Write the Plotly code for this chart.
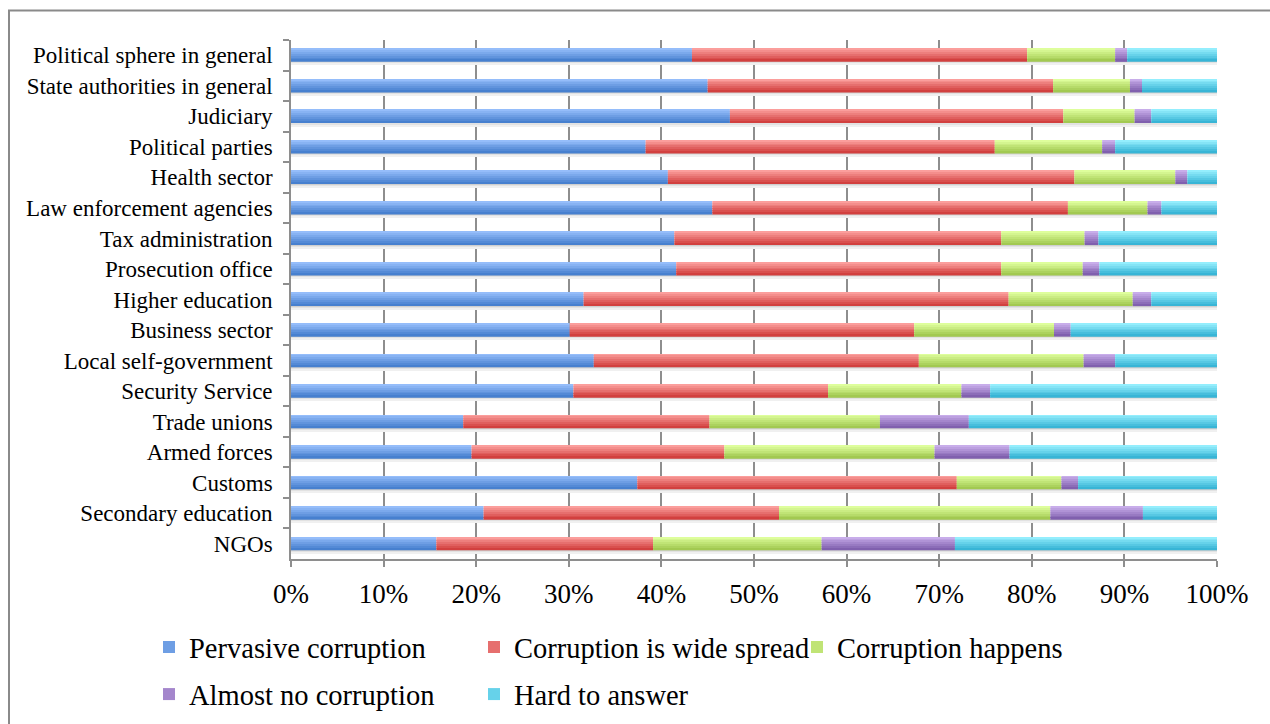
import plotly.graph_objects as go

categories = ["Political sphere in general", "State authorities in general", "Judiciary",
              "Political parties", "Health sector", "Law enforcement agencies",
              "Tax administration", "Prosecution office", "Higher education",
              "Business sector", "Local self-government", "Security Service",
              "Trade unions", "Armed forces", "Customs", "Secondary education", "NGOs"]

pervasive = [43.3, 45.0, 47.4, 38.3, 40.7, 45.5, 41.4, 41.6, 31.6, 30.1, 32.7, 30.5, 18.6, 19.5, 37.4, 20.8, 15.7]
wide_spread = [36.2, 37.3, 36.0, 37.7, 43.9, 38.4, 35.3, 35.1, 45.9, 37.2, 35.1, 27.5, 26.6, 27.3, 34.5, 31.9, 23.4]
happens = [9.5, 8.3, 7.7, 11.6, 10.9, 8.6, 9.0, 8.8, 13.4, 15.1, 17.8, 14.4, 18.4, 22.7, 11.3, 29.3, 18.2]
almost_none = [1.3, 1.3, 1.8, 1.4, 1.3, 1.5, 1.5, 1.8, 2.0, 1.8, 3.4, 3.1, 9.6, 8.1, 1.8, 10.0, 14.4]
hard_to_answer = [9.7, 8.1, 7.1, 11.0, 3.2, 6.0, 12.8, 12.7, 7.1, 15.8, 11.0, 24.5, 26.8, 22.4, 15.0, 8.0, 28.3]

series_names = ["Pervasive corruption", "Corruption is wide spread", "Corruption happens",
                "Almost no corruption", "Hard to answer"]
series_values = [pervasive, wide_spread, happens, almost_none, hard_to_answer]
tick_vals = [0, 10, 20, 30, 40, 50, 60, 70, 80, 90, 100]
tick_text = ["0%", "10%", "20%", "30%", "40%", "50%", "60%", "70%", "80%", "90%", "100%"]

# style
grad = [("#95bdfa", "#4780cf"), ("#fb9e9c", "#d2403f"), ("#defe9c", "#a2c951"),
        ("#c8adea", "#8060ae"), ("#94eefd", "#38b5d6")]
legend_of = ["legend", "legend2", "legend3", "legend", "legend2"]
FONT = "Liberation Serif"
BAR_W = 0.43
N_STRIPS = 7


def mix(c1, c2, t):
    a = [int(c1[i:i + 2], 16) for i in (1, 3, 5)]
    b = [int(c2[i:i + 2], 16) for i in (1, 3, 5)]
    return "#%02x%02x%02x" % tuple(round(a[k] + (b[k] - a[k]) * t) for k in range(3))


# row totals and percentages
totals = [sum(s[i] for s in series_values) for i in range(len(categories))]
pcts = [[v / totals[i] * 100 for i, v in enumerate(s)] for s in series_values]
bases = []
run = [0.0] * len(categories)
for p in pcts:
    bases.append(list(run))
    run = [run[i] + p[i] for i in range(len(categories))]

fig = go.Figure()

# soft shadow under the bars
for k, col in enumerate(["#cfcfcf", "#e2e2e2", "#f0f0f0"]):
    fig.add_trace(go.Bar(
        y=categories, x=run, base=[0] * len(categories), orientation="h",
        width=0.035, offset=BAR_W / 2 + k * 0.035,
        marker=dict(color=col, line=dict(width=0)),
        showlegend=False, hoverinfo="skip"))

for s_idx, name in enumerate(series_names):
    top, bot = grad[s_idx]
    sw = BAR_W / N_STRIPS
    for j in range(N_STRIPS):
        col = mix(top, bot, j / (N_STRIPS - 1))
        fig.add_trace(go.Bar(
            y=categories, x=pcts[s_idx], base=bases[s_idx], orientation="h",
            width=sw * 1.02, offset=-BAR_W / 2 + j * sw,
            marker=dict(color=col, line=dict(width=0)),
            name=name, legendgroup=name,
            showlegend=False, hoverinfo="skip"))
    # legend entry
    fig.add_trace(go.Bar(
        y=[None], x=[None], orientation="h", name=name, legendgroup=name,
        legend=legend_of[s_idx],
        marker=dict(color=mix(top, bot, 0.5), line=dict(width=0)), showlegend=True))


def px_x(px):
    return (px - 291) / 926


def px_y(py):
    return (559 - py) / 519


leg_common = dict(orientation="v", yanchor="top", xanchor="left",
                  font=dict(size=28.5, family=FONT), traceorder="grouped",
                  tracegroupgap=7, itemclick=False, itemdoubleclick=False,
                  bgcolor="rgba(0,0,0,0)")

fig.update_layout(
    width=1270, height=724,
    barmode="overlay",
    paper_bgcolor="white", plot_bgcolor="white",
    margin=dict(l=291, r=53, t=40, b=165, autoexpand=False),
    font=dict(family=FONT, color="#000000"),
    xaxis=dict(range=[0, 100], tickvals=tick_vals, ticktext=tick_text,
               showgrid=True, gridcolor="#8e8e8e", gridwidth=1.6,
               showline=True, linecolor="#8e8e8e", linewidth=1.6,
               ticks="outside", ticklen=6, tickcolor="#8e8e8e", tickwidth=1.6,
               ticklabelstandoff=4,
               tickfont=dict(size=27, family=FONT), zeroline=False),
    yaxis=dict(type="category", categoryorder="array", categoryarray=categories,
               autorange="reversed", showgrid=False,
               showline=True, linecolor="#8e8e8e", linewidth=1.6,
               ticks="outside", ticklen=6, tickcolor="#8e8e8e", tickwidth=1.6,
               tickson="boundaries", ticklabelstandoff=12,
               tickfont=dict(size=23, family=FONT)),
    legend=dict(x=px_x(149), y=px_y(622), **leg_common),
    legend2=dict(x=px_x(474), y=px_y(622), **leg_common),
    legend3=dict(x=px_x(797), y=px_y(622), **leg_common),
    shapes=[dict(type="rect", xref="paper", yref="paper",
                 x0=(9 - 291) / 926, x1=(1290 - 291) / 926,
                 y0=(559 - 740) / 519, y1=(559 - 10.5) / 519,
                 line=dict(color="#8a8a8a", width=2), fillcolor="rgba(0,0,0,0)",
                 layer="below")],
)

fig.write_html("out.html")
